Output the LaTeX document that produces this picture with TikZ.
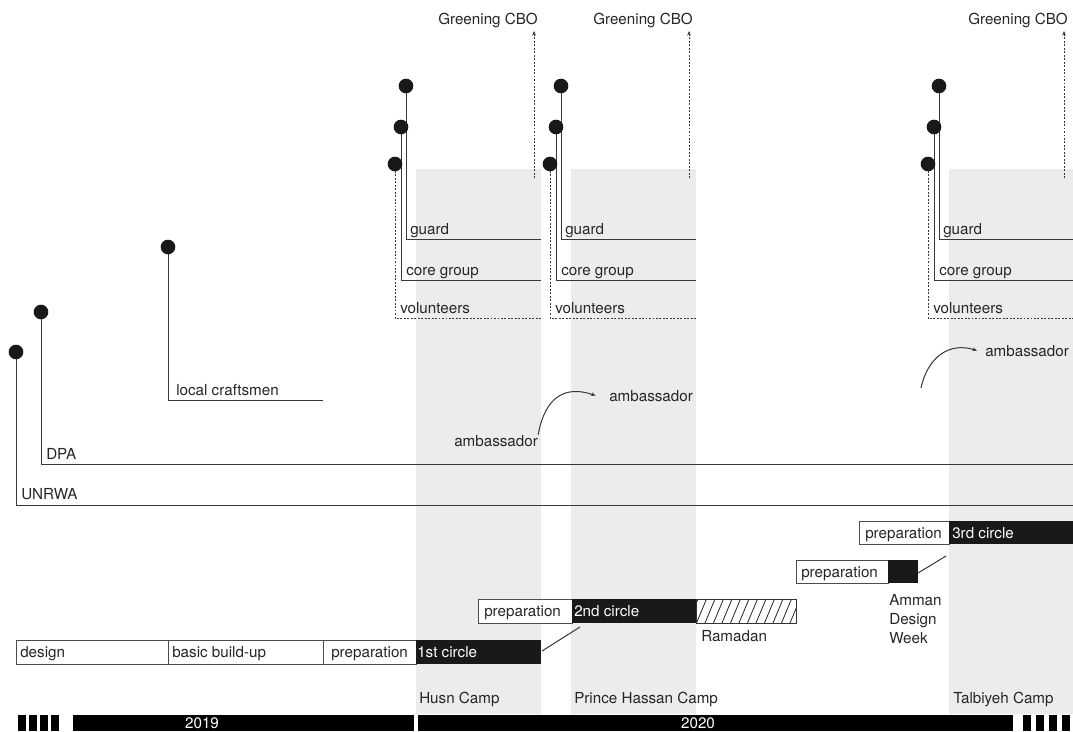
\documentclass[tikz,border=0pt]{standalone}
\usepackage{fontspec}
\setmainfont{TeX Gyre Heros}
\usetikzlibrary{arrows.meta}

\begin{document}
\begin{tikzpicture}[x=0.75pt, y=-0.75pt,
    font=\fontsize{11.4}{14.25}\selectfont,
    camp/.style={fill=black!7.5},
    dot/.style={circle, fill=black!90, inner sep=0pt, minimum size=11pt},
    tie/.style={draw=black!78, line width=0.75pt},
    dots/.style={draw=black!78, line width=0.75pt, dash pattern=on 1.4pt off 1.2pt},
    tip/.style={-{Stealth[length=3.4pt, width=2.8pt]}},
    lbl/.style={anchor=base west, inner sep=0pt, text=black!85},
    phase/.style={draw=black!70, fill=white, line width=0.6pt},
    circ/.style={fill=black!90},
    white lbl/.style={lbl, text=white}]
    \useasboundingbox (0,0) rectangle (1073,731);

    % camps in the background
    \fill[camp] (416,169) rectangle (541,714);
    \fill[camp] (571,169) rectangle (696,714);
    \fill[camp] (949,169) rectangle (1073,714);

    % community groups of each circle
    \foreach \o/\r/\a/\n in {0/541/534/1, 155/696/689/2, 533/1073/1064/3} {
        \coordinate (guard\n) at (406+\o,86);
        \coordinate (core\n) at (401+\o,127);
        \coordinate (vol\n) at (395+\o,164);
        \coordinate (guardend\n) at (\r,239);
        \coordinate (coreend\n) at (\r,280);
        \coordinate (volend\n) at (\r,318);
        \draw[tie] (guard\n) |- (guardend\n);
        \draw[tie] (core\n) |- (coreend\n);
        \draw[dots] (vol\n) |- (volend\n);
        \node[dot] (guarddot\n) at (guard\n) {};
        \node[dot] (coredot\n) at (core\n) {};
        \node[dot] (voldot\n) at (vol\n) {};
        \node[lbl] (guardlbl\n) at (410+\o,234) {guard};
        \node[lbl] (corelbl\n) at (406+\o,275) {core group};
        \node[lbl] (vollbl\n) at (400+\o,313) {volunteers};

        \node[lbl, anchor=base east] (cbo\n) at (\a+4,25) {Greening CBO};
        \coordinate (cbofoot\n) at (\a,178);
        \coordinate (cbotip\n) at (\a,31);
        \draw[dots, tip] (cbofoot\n) -- (cbotip\n);
    }

    % stakeholders
    \coordinate (unrwa) at (16,352);
    \coordinate (unrwaend) at (1073,505);
    \coordinate (dpa) at (41,312);
    \coordinate (dpaend) at (1073,464);
    \coordinate (craft) at (168,247);
    \coordinate (craftend) at (323,400);
    \draw[tie] (unrwa) |- (unrwaend);
    \draw[tie] (dpa) |- (dpaend);
    \draw[tie] (craft) |- (craftend);
    \node[dot] (unrwadot) at (unrwa) {};
    \node[dot] (dpadot) at (dpa) {};
    \node[dot] (craftdot) at (craft) {};
    \node[lbl] (unrwalbl) at (21,499) {UNRWA};
    \node[lbl] (dpalbl) at (46,459) {DPA};
    \node[lbl] (craftlbl) at (176,395) {local craftsmen};

    % ambassadors
    \node[lbl] (amb1) at (454,446) {ambassador};
    \node[lbl] (amb2) at (609,401) {ambassador};
    \node[lbl] (amb3) at (985,356) {ambassador};
    \coordinate (amb3start) at (921,388);
    \draw[tie, tip] (amb1.north east) .. controls (545,397) and (565,385) .. ([xshift=-10pt]amb2.west);
    \draw[tie, tip] (amb3start) .. controls (928,356) and (950,342) .. ([xshift=-6pt]amb3.west);

    % first circle
    \draw[phase] (16.5,640) rectangle (168,664);
    \draw[phase] (168,640) rectangle (323.5,664);
    \draw[phase] (323.5,640) rectangle (416,664);
    \fill[circ] (416,640) rectangle (541,664);
    \node[lbl] (design) at (20,657) {design};
    \node[lbl] (buildup) at (172,657) {basic build-up};
    \node[lbl] (prep1) at (331,657) {preparation};
    \node[white lbl] (circle1) at (417,657) {1st circle};

    % second circle
    \draw[phase] (478,599) rectangle (572,623);
    \fill[circ] (572,599) rectangle (696,623);
    \node[lbl] (prep2) at (484,616) {preparation};
    \node[white lbl] (circle2) at (574,616) {2nd circle};
    \begin{scope}
        \clip (696,599) rectangle (796,623);
        \foreach \x in {688,696.5,...,800}
            \draw[black!85, line width=0.6pt] (\x,623) -- ++(10,-24);
    \end{scope}
    \draw[black!80, line width=0.6pt] (696,599) rectangle (796,623);
    \node[lbl] (ramadan) at (701,641) {Ramadan};
    \coordinate (link1a) at (542,651);
    \coordinate (link1b) at (580,627);
    \draw[tie] (link1a) -- (link1b);

    % Amman Design Week
    \draw[phase] (796,560) rectangle (888,583);
    \fill[circ] (888,560) rectangle (918,583);
    \node[lbl] (prep4) at (801,577) {preparation};
    \node[lbl, anchor=north west, align=left] (adw) at (889,594) {Amman\\Design\\Week};
    \coordinate (link2a) at (918,573);
    \coordinate (link2b) at (946,556);
    \draw[tie] (link2a) -- (link2b);

    % third circle
    \draw[phase] (859,521) rectangle (949,544);
    \fill[circ] (949,521) rectangle (1073,544);
    \node[lbl] (prep3) at (865,538) {preparation};
    \node[white lbl] (circle3) at (952,538) {3rd circle};

    % camp names
    \node[lbl] (husn) at (419,703) {Husn Camp};
    \node[lbl] (hassan) at (574,703) {Prince Hassan Camp};
    \node[lbl] (talbiyeh) at (953,703) {Talbiyeh Camp};

    % years
    \fill[black] (73,715) rectangle (414,731);
    \fill[black] (418,715) rectangle (1013,731);
    \foreach \x in {18,29,40,51}
        \fill[black] (\x,715) rectangle +(8,16);
    \foreach \x in {1023,1036,1049,1062}
        \fill[black] (\x,715) rectangle +(8,16);
    \node[inner sep=0pt, text=white] (y2019) at (202,723) {2019};
    \node[inner sep=0pt, text=white] (y2020) at (698,723) {2020};
\end{tikzpicture}
\end{document}
